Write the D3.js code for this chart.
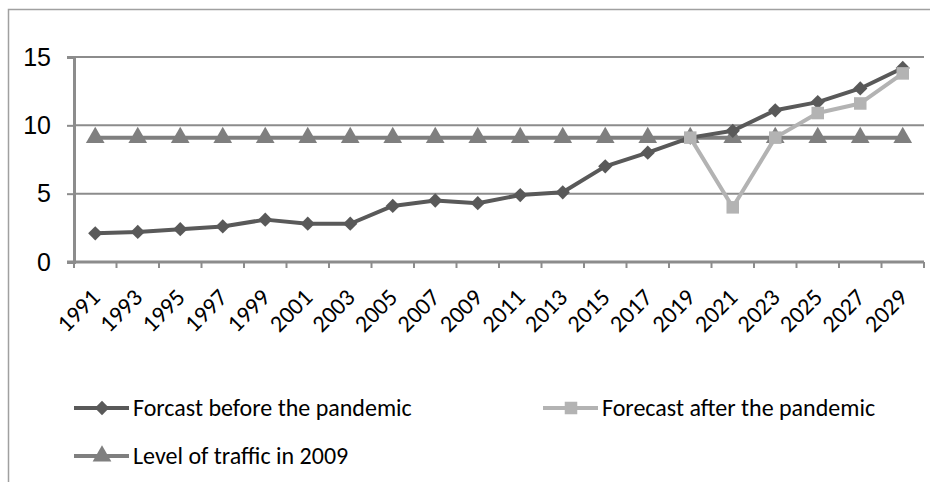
<!DOCTYPE html>
<html>
<head>
<meta charset="utf-8">
<script src="https://cdn.jsdelivr.net/npm/d3@7"></script>
<style>
  html, body { margin: 0; padding: 0; background: #fff; }
  svg { display: block; font-family: Carlito, Calibri, Lato, sans-serif; }
</style>
</head>
<body>
<div id="chart"></div>
<script>
const years = ['1991', '1993', '1995', '1997', '1999', '2001', '2003', '2005', '2007', '2009',
               '2011', '2013', '2015', '2017', '2019', '2021', '2023', '2025', '2027', '2029'];
const beforePandemic = [2.1, 2.2, 2.4, 2.6, 3.1, 2.8, 2.8, 4.1, 4.5, 4.3,
                        4.9, 5.1, 7.0, 8.0, 9.1, 9.6, 11.1, 11.7, 12.7, 14.2];
const afterPandemic = [null, null, null, null, null, null, null, null, null, null,
                       null, null, null, null, 9.1, 4.0, 9.1, 10.9, 11.6, 13.8];
const level2009 = [9.1, 9.1, 9.1, 9.1, 9.1, 9.1, 9.1, 9.1, 9.1, 9.1,
                   9.1, 9.1, 9.1, 9.1, 9.1, 9.1, 9.1, 9.1, 9.1, 9.1];
const yTicks = [0, 5, 10, 15];

const series = [
  { name: 'Forcast before the pandemic', values: beforePandemic, color: '#595959', symbol: d3.symbolDiamond2, size: 130 },
  { name: 'Forecast after the pandemic', values: afterPandemic, color: '#b3b3b3', symbol: d3.symbolSquare2, size: 200 },
  { name: 'Level of traffic in 2009', values: level2009, color: '#7f7f7f', symbol: d3.symbolTriangle2, size: 250 }
];

const width = 930, height = 482;
const plot = { left: 74, right: 924, top: 57, bottom: 262 };

const svg = d3.select('#chart').append('svg')
  .attr('width', width)
  .attr('height', height);

// chart frame (runs off the right and bottom edge)
svg.append('rect')
  .attr('x', 8.5).attr('y', 9.5)
  .attr('width', 940).attr('height', 500)
  .attr('fill', 'none')
  .attr('stroke', '#a0a0a0')
  .attr('stroke-width', 1.5);

const x = d3.scaleBand().domain(years).range([plot.left, plot.right]);
const y = d3.scaleLinear().domain([0, 15]).range([plot.bottom, plot.top]);

// horizontal grid
svg.append('g').selectAll('line')
  .data(yTicks.filter(d => d > 0))
  .join('line')
  .attr('x1', plot.left).attr('x2', plot.right)
  .attr('y1', d => y(d)).attr('y2', d => y(d))
  .attr('stroke', '#8c8c8c')
  .attr('stroke-width', 2);

// y axis
const yAxis = svg.append('g')
  .attr('transform', `translate(${plot.left},0)`)
  .call(d3.axisLeft(y).tickValues(yTicks).tickSize(7).tickPadding(16));
yAxis.select('.domain').attr('stroke', '#8c8c8c').attr('stroke-width', 3);
yAxis.selectAll('.tick line').attr('stroke', '#8c8c8c').attr('stroke-width', 2);
yAxis.selectAll('.tick text')
  .attr('fill', '#000')
  .style('font-size', '25px');

// x axis with ticks between categories
const xAxis = svg.append('g')
  .attr('transform', `translate(0,${plot.bottom})`);
xAxis.append('line')
  .attr('x1', plot.left - 7).attr('x2', plot.right)
  .attr('y1', 0).attr('y2', 0)
  .attr('stroke', '#8c8c8c')
  .attr('stroke-width', 3);
const boundaries = years.map(d => x(d)).concat([x(years[years.length - 1]) + x.bandwidth()]);
xAxis.selectAll('line.tick')
  .data(boundaries)
  .join('line')
  .attr('class', 'tick')
  .attr('x1', d => d).attr('x2', d => d)
  .attr('y1', 0).attr('y2', 6)
  .attr('stroke', '#8c8c8c')
  .attr('stroke-width', 2);
xAxis.selectAll('text')
  .data(years)
  .join('text')
  .attr('transform', d => `translate(${x(d) + x.bandwidth() / 2 + 6},37) rotate(-45)`)
  .attr('text-anchor', 'end')
  .attr('fill', '#000')
  .style('font-size', '24px')
  .text(d => d);

// series lines and markers
const cx = (d, i) => x(years[i]) + x.bandwidth() / 2;
const line = d3.line()
  .defined(d => d !== null)
  .x(cx)
  .y(d => y(d));

const drawOrder = [2, 0, 1];
drawOrder.forEach(k => {
  const s = series[k];
  const g = svg.append('g');
  g.append('path')
    .attr('d', line(s.values))
    .attr('fill', 'none')
    .attr('stroke', s.color)
    .attr('stroke-width', 4)
    .attr('stroke-linejoin', 'round');
  g.selectAll('path.mark')
    .data(s.values.map((v, i) => ({ v, i })).filter(d => d.v !== null))
    .join('path')
    .attr('class', 'mark')
    .attr('transform', d => `translate(${cx(d.v, d.i)},${y(d.v)})`)
    .attr('d', d3.symbol().type(s.symbol).size(s.size))
    .attr('fill', s.color);
});

// legend
const legendItems = [
  { s: series[0], x: 74, y: 408 },
  { s: series[1], x: 543, y: 408 },
  { s: series[2], x: 74, y: 456 }
];
const lg = svg.append('g').selectAll('g')
  .data(legendItems)
  .join('g')
  .attr('transform', d => `translate(${d.x},${d.y})`);
lg.append('line')
  .attr('x1', 0).attr('x2', 55)
  .attr('stroke', d => d.s.color)
  .attr('stroke-width', 4);
lg.append('path')
  .attr('transform', 'translate(28,0)')
  .attr('d', d => d3.symbol().type(d.s.symbol).size(d.s.size)())
  .attr('fill', d => d.s.color);
lg.append('text')
  .attr('x', 59)
  .attr('dy', '0.35em')
  .attr('fill', '#000')
  .style('font-size', '24px')
  .text(d => d.s.name);
</script>
</body>
</html>
